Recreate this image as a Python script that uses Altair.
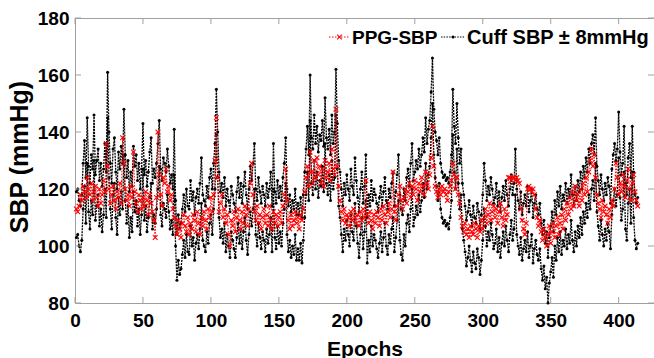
import altair as alt
import pandas as pd

# Cuff SBP (centre value; the chart draws cuff + 8 and cuff - 8)
cuff_sbp = [
    111, 112, 108, 106, 110, 121, 129, 116, 137, 120,
    114, 124, 119, 138, 117, 122, 126, 115, 121, 113,
    119, 128, 118, 153, 132, 121, 114, 126, 130, 118,
    112, 125, 119, 127, 121, 140, 124, 116, 122, 111,
    118, 113, 127, 120, 124, 115, 121, 112, 119, 135,
    117, 122, 113, 118, 125, 130, 114, 119, 116, 121,
    128, 136, 119, 115, 123, 121, 118, 126, 120, 114,
    117, 112, 133, 108, 96, 103, 98, 100, 105, 110,
    104, 112, 106, 105, 115, 108, 111, 103, 109, 112,
    107, 114, 123, 110, 108, 106, 113, 109, 116, 119,
    112, 121, 128, 147, 132, 118, 111, 114, 109, 116,
    106, 112, 108, 104, 113, 110, 107, 104, 111, 116,
    109, 114, 107, 113, 118, 110, 105, 112, 120, 115,
    121, 128, 112, 108, 116, 111, 107, 113, 110, 106,
    114, 109, 112, 118, 106, 128, 111, 107, 115, 109,
    113, 108, 116, 121, 130, 112, 106, 110, 104, 108,
    105, 112, 103, 107, 103, 109, 102, 110, 118, 126,
    134, 124, 152, 130, 126, 138, 128, 134, 125, 131,
    129, 136, 127, 144, 130, 126, 133, 124, 138, 128,
    132, 154, 135, 122, 118, 112, 106, 114, 110, 117,
    112, 108, 119, 113, 110, 123, 115, 109, 104, 112,
    118, 107, 113, 124, 102, 110, 106, 115, 108, 112,
    110, 107, 104, 109, 113, 106, 111, 116, 108, 105,
    112, 109, 114, 118, 106, 111, 117, 124, 110, 105,
    103, 112, 108, 116, 119, 113, 121, 128, 115, 118,
    122, 119, 126, 120, 124, 130, 125, 137, 128, 133,
    136, 146, 158, 140, 132, 129, 124, 130, 121, 118,
    116, 117, 115, 116, 114, 118, 124, 147, 134, 128,
    142, 130, 121, 126, 114, 110, 106, 101, 104, 108,
    103, 99, 106, 102, 100, 107, 104, 98, 103, 110,
    121, 115, 108, 113, 110, 116, 112, 107, 109, 114,
    106, 111, 104, 109, 113, 108, 115, 110, 106, 112,
    117, 110, 114, 126, 112, 108, 105, 111, 103, 107,
    110, 106, 113, 104, 108, 112, 102, 107, 110, 105,
    103, 107, 100, 96, 101, 93, 97, 88, 95, 99,
    104, 97, 108, 103, 111, 106, 113, 105, 110, 108,
    114, 107, 112, 109, 117, 110, 106, 113, 108, 115,
    111, 118, 112, 120, 116, 123, 118, 126, 121, 128,
    131, 124, 137, 120, 115, 110, 117, 112, 108, 114,
    110, 116, 113, 107, 119, 124, 128, 122, 126, 139,
    125, 117, 121, 134, 114, 110, 123, 128, 116, 134,
    118, 110, 107, 109,
]

# PPG-estimated SBP
ppg_sbp = [
    113, 112, 114, 118, 116, 121, 119, 117, 124, 120,
    118, 122, 116, 119, 121, 117, 114, 120, 115, 118,
    123, 119, 136, 128, 120, 115, 118, 121, 116, 113,
    119, 117, 122, 115, 138, 129, 120, 116, 118, 114,
    121, 117, 133, 119, 115, 112, 118, 116, 113, 117,
    114, 119, 116, 111, 118, 115, 112, 109, 103, 117,
    140, 125, 118, 114, 124, 122, 127, 119, 121, 116,
    118, 113, 110, 107, 104, 109, 106, 103, 108, 111,
    107, 105, 110, 104, 108, 106, 111, 109, 105, 112,
    108, 104, 110, 107, 112, 109, 106, 113, 110, 117,
    112, 118, 130, 145, 124, 112, 115, 118, 110, 113,
    108, 111, 104, 100, 109, 107, 112, 105, 110, 113,
    109, 106, 112, 108, 114, 111, 107, 113, 122, 129,
    118, 112, 109, 114, 108, 111, 106, 110, 113, 108,
    111, 107, 114, 109, 106, 112, 108, 111, 107, 110,
    112, 108, 114, 118, 127, 116, 109, 106, 111, 107,
    109, 112, 108, 110, 106, 111, 109, 113, 119, 124,
    128, 121, 133, 126, 122, 130, 124, 131, 125, 128,
    122, 127, 121, 130, 124, 126, 129, 123, 134, 127,
    125, 148, 128, 121, 116, 112, 109, 113, 108, 111,
    110, 107, 112, 109, 113, 110, 108, 111, 107, 112,
    109, 113, 110, 123, 111, 108, 112, 109, 106, 111,
    108, 112, 110, 107, 113, 109, 114, 111, 108, 112,
    115, 110, 113, 126, 112, 109, 114, 118, 121, 116,
    113, 117, 120, 115, 119, 122, 117, 121, 118, 123,
    120, 116, 122, 119, 124, 121, 118, 126, 122, 120,
    125, 131, 142, 128, 121, 119, 117, 120, 118, 121,
    119, 120, 118, 116, 119, 121, 123, 129, 125, 120,
    124, 118, 115, 110, 107, 105, 108, 104, 106, 103,
    107, 105, 104, 108, 106, 103, 107, 105, 109, 106,
    110, 113, 108, 111, 115, 109, 112, 114, 110, 113,
    108, 112, 115, 110, 107, 113, 109, 111, 124, 124,
    123, 124, 124, 123, 124, 123, 122, 113, 109, 106,
    104, 108, 120, 121, 120, 119, 120, 118, 113, 110,
    107, 109, 105, 102, 106, 103, 100, 104, 107, 101,
    105, 108, 103, 107, 110, 104, 108, 111, 106, 113,
    109, 115, 111, 117, 113, 119, 114, 121, 116, 118,
    114, 120, 116, 122, 118, 124, 119, 126, 130, 134,
    128, 132, 124, 118, 115, 113, 110, 116, 112, 114,
    111, 108, 113, 110, 116, 114, 120, 129, 124, 118,
    122, 119, 125, 121, 117, 123, 127, 120, 116, 122,
    125, 119, 116, 114,
]

x_ticks = [0, 50, 100, 150, 200, 250, 300, 350, 400]
y_ticks = [80, 100, 120, 140, 160, 180]
band_offset = 8  # "± 8mmHg"

W, H = 579, 285
FONT = "Liberation Sans"
FRAME = "#a0a0a0"
RED = "#ff0000"
XMARK = "M-1,-1L1,1M-1,1L1,-1"

cuff_df = pd.DataFrame({"epoch": list(range(1, len(cuff_sbp) + 1)), "cuff": cuff_sbp})
ppg_df = pd.DataFrame({"epoch": list(range(1, len(ppg_sbp) + 1)), "sbp": ppg_sbp})
xt_df = pd.DataFrame({"epoch": x_ticks})
yt_df = pd.DataFrame({"sbp": y_ticks})

xs = alt.Scale(domain=[0, 426], nice=False, zero=False)
ys = alt.Scale(domain=[80, 180], nice=False, zero=False)

x_axis = alt.Axis(
    values=x_ticks, title="Epochs", grid=False, ticks=False, domain=False,
    labelFont=FONT, labelFontWeight="bold", labelFontSize=19, labelColor="black",
    labelPadding=8, labelFlush=False, labelOverlap=False,
    titleFont=FONT, titleFontSize=21, titleFontWeight="bold", titleColor="black",
    titleY=52, titleBaseline="alphabetic",
)
y_axis = alt.Axis(
    values=y_ticks, title="SBP (mmHg)", grid=False, ticks=False, domain=False,
    labelFont=FONT, labelFontWeight="bold", labelFontSize=19, labelColor="black",
    labelPadding=6, labelFlush=False, labelOverlap=False,
    titleFont=FONT, titleFontSize=25, titleFontWeight="bold", titleColor="black",
    titleX=-56, titleY=H / 2 - 4, titleBaseline="middle", titleAlign="center", titleAngle=270,
)

X = alt.X("epoch:Q", scale=xs, axis=x_axis, title="Epochs")
Y = alt.Y("sbp:Q", scale=ys, axis=y_axis, title="SBP (mmHg)")

black_base = alt.Chart(cuff_df).transform_calculate(
    upper=f"datum.cuff + {band_offset}", lower=f"datum.cuff - {band_offset}"
).transform_fold(["upper", "lower"], as_=["band", "sbp"])

black_line = black_base.mark_line(color="black", strokeWidth=1.3, strokeDash=[2, 1]).encode(
    x=X, y=Y, detail="band:N"
)
black_pts = black_base.mark_point(filled=True, color="black", size=9, opacity=1).encode(
    x=X, y=Y, detail="band:N"
)
red_line = alt.Chart(ppg_df).mark_line(color=RED, strokeWidth=1, strokeDash=[1.5, 1.5]).encode(x=X, y=Y)
red_pts = alt.Chart(ppg_df).mark_point(shape=XMARK, color=RED, size=22, strokeWidth=1.1, filled=False, opacity=1).encode(x=X, y=Y)

# inward ticks (MATLAB style)
TL = 6
xb = alt.Chart(xt_df).mark_rule(color=FRAME, strokeWidth=1).encode(
    x=X, y=alt.value(H), y2=alt.value(H - TL))
xtp = alt.Chart(xt_df).mark_rule(color=FRAME, strokeWidth=1).encode(
    x=X, y=alt.value(0), y2=alt.value(TL))
yl = alt.Chart(yt_df).mark_rule(color=FRAME, strokeWidth=1).encode(
    y=Y, x=alt.value(0), x2=alt.value(TL))
yr = alt.Chart(yt_df).mark_rule(color=FRAME, strokeWidth=1).encode(
    y=Y, x=alt.value(W), x2=alt.value(W - TL))

# legend
LY = 19
one = alt.Data(values=[{"k": 1}])
leg_red_line = alt.Chart(one).mark_rule(color=RED, strokeWidth=1, strokeDash=[1.5, 1.5]).encode(
    x=alt.value(254), x2=alt.value(275), y=alt.value(LY))
leg_red_pt = alt.Chart(one).mark_point(shape=XMARK, color=RED, size=22, strokeWidth=1.1, filled=False, opacity=1).encode(
    x=alt.value(264.5), y=alt.value(LY))
leg_red_txt = alt.Chart(alt.Data(values=[{"label": "PPG-SBP"}])).mark_text(
    font=FONT, fontWeight="bold", fontSize=19, align="left", baseline="middle", color="black").encode(
    x=alt.value(277), y=alt.value(LY + 1), text="label:N")
leg_blk_line = alt.Chart(one).mark_rule(color="black", strokeWidth=1, strokeDash=[1.5, 1.2]).encode(
    x=alt.value(366), x2=alt.value(390), y=alt.value(LY))
leg_blk_pt = alt.Chart(one).mark_point(filled=True, color="black", size=9, opacity=1).encode(
    x=alt.value(378), y=alt.value(LY))
leg_blk_txt = alt.Chart(alt.Data(values=[{"label": "Cuff SBP ± 8mmHg"}])).mark_text(
    font=FONT, fontWeight="bold", fontSize=20, align="left", baseline="middle", color="black").encode(
    x=alt.value(392), y=alt.value(LY + 1), text="label:N")

chart = alt.layer(
    black_line, black_pts, red_line, red_pts,
    xb, xtp, yl, yr,
    leg_red_line, leg_red_pt, leg_red_txt, leg_blk_line, leg_blk_pt, leg_blk_txt,
).properties(
    width=W, height=H,
    autosize=alt.AutoSizeParams(type="none"),
    padding={"left": 75, "top": 18, "right": 0, "bottom": 55},
    background="white",
).configure_view(stroke=FRAME, strokeWidth=1)

chart.save("out.html", embed_options={"renderer": "svg", "actions": False})
